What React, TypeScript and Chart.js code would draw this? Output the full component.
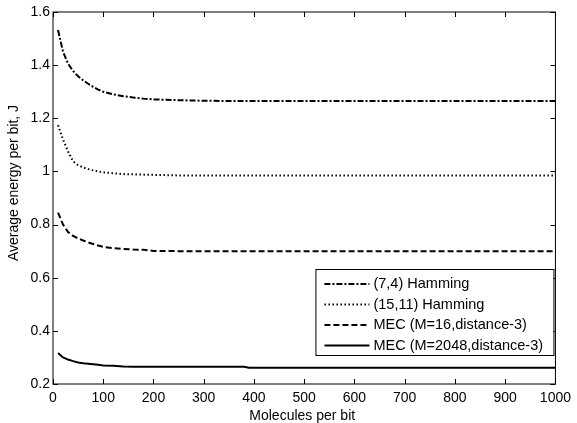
import React, { useEffect, useRef } from "react";
import { Chart, registerables } from "chart.js";

Chart.register(...registerables);

const moleculesPerBit = [10, 20, 30, 40, 50, 60, 70, 80, 90, 100, 120, 140, 160, 180, 200, 250, 300, 350, 380, 390, 400, 500, 600, 700, 800, 900, 1000];
const hamming74 = [1.532, 1.45, 1.405, 1.378, 1.358, 1.343, 1.33, 1.318, 1.308, 1.3, 1.29, 1.283, 1.278, 1.274, 1.271, 1.268, 1.266, 1.265, 1.265, 1.265, 1.265, 1.265, 1.265, 1.265, 1.265, 1.265, 1.265];
const hamming1511 = [1.174, 1.12, 1.075, 1.038, 1.024, 1.015, 1.009, 1.004, 1.0, 0.997, 0.993, 0.99, 0.989, 0.988, 0.987, 0.985, 0.985, 0.985, 0.985, 0.985, 0.985, 0.985, 0.985, 0.985, 0.985, 0.985, 0.985];
const mec16 = [0.845, 0.8, 0.772, 0.757, 0.748, 0.74, 0.733, 0.727, 0.721, 0.716, 0.711, 0.708, 0.706, 0.705, 0.701, 0.7, 0.7, 0.7, 0.7, 0.7, 0.7, 0.7, 0.7, 0.7, 0.7, 0.7, 0.7];
const mec2048 = [0.317, 0.3, 0.292, 0.286, 0.281, 0.278, 0.276, 0.274, 0.272, 0.27, 0.269, 0.266, 0.265, 0.265, 0.265, 0.265, 0.265, 0.265, 0.265, 0.261, 0.261, 0.261, 0.261, 0.261, 0.261, 0.261, 0.261];

const seriesNames = ["(7,4) Hamming", "(15,11) Hamming", "MEC (M=16,distance-3)", "MEC (M=2048,distance-3)"];
const xTickValues = [0, 100, 200, 300, 400, 500, 600, 700, 800, 900, 1000];
const xTickLabels = ["0", "100", "200", "300", "400", "500", "600", "700", "800", "900", "1000"];
const yTickValues = [0.2, 0.4, 0.6, 0.8, 1.0, 1.2, 1.4, 1.6];
const yTickLabels = ["0.2", "0.4", "0.6", "0.8", "1", "1.2", "1.4", "1.6"];
const xTitle = "Molecules per bit";
const yTitle = "Average energy per bit, J";

const FONT = "'Liberation Sans', Arial, sans-serif";
const dashes = [[6, 2, 2, 2], [1.5, 2.5], [6, 3], []];

export default function App() {
  const ref = useRef<HTMLCanvasElement | null>(null);
  useEffect(() => {
    if (!ref.current) return;
    const seriesValues = [hamming74, hamming1511, mec16, mec2048];
    const frame = {
      id: "frame",
      afterDatasetsDraw(chart: any) {
        const { ctx, chartArea: a, scales } = chart;
        ctx.save();
        ctx.strokeStyle = "#000";
        ctx.lineWidth = 1;
        ctx.setLineDash([]);
        ctx.strokeRect(a.left, a.top, a.right - a.left, a.bottom - a.top);
        ctx.beginPath();
        xTickValues.forEach((v) => {
          const px = Math.round(scales.x.getPixelForValue(v)) + 0.5;
          ctx.moveTo(px, a.bottom);
          ctx.lineTo(px, a.bottom - 5);
          ctx.moveTo(px, a.top);
          ctx.lineTo(px, a.top + 5);
        });
        yTickValues.forEach((v) => {
          const py = Math.round(scales.y.getPixelForValue(v)) + 0.5;
          ctx.moveTo(a.left, py);
          ctx.lineTo(a.left + 5, py);
          ctx.moveTo(a.right, py);
          ctx.lineTo(a.right - 5, py);
        });
        ctx.stroke();
        // axis titles
        ctx.fillStyle = "#000";
        ctx.font = `14px ${FONT}`;
        ctx.textAlign = "center";
        ctx.textBaseline = "middle";
        ctx.fillText(xTitle, (a.left + a.right) / 2 - 2, 416);
        ctx.save();
        ctx.translate(14, (a.top + a.bottom) / 2 - 15);
        ctx.rotate(-Math.PI / 2);
        ctx.fillText(yTitle, 0, 0);
        ctx.restore();
        // legend
        const lx = a.right - 240, ly = a.top + 257, lw = 238, lh = 86;
        ctx.fillStyle = "#fff";
        ctx.fillRect(lx, ly, lw, lh);
        ctx.strokeRect(lx + 0.5, ly + 0.5, lw, lh);
        ctx.font = `14.5px ${FONT}`;
        ctx.textAlign = "left";
        ctx.textBaseline = "middle";
        ctx.fillStyle = "#000";
        seriesNames.forEach((name, i) => {
          const ry = ly + 15 + i * 20.5;
          ctx.beginPath();
          ctx.lineWidth = 2;
          ctx.setLineDash(dashes[i]);
          ctx.moveTo(lx + 9, ry);
          ctx.lineTo(lx + 54, ry);
          ctx.stroke();
          ctx.setLineDash([]);
          ctx.fillText(name, lx + 58, ry);
        });
        ctx.restore();
      },
    };
    const chart = new Chart(ref.current, {
      type: "line",
      data: {
        datasets: seriesValues.map((vals, i) => ({
          label: seriesNames[i],
          data: moleculesPerBit.map((x, j) => ({ x, y: vals[j] })),
          borderColor: "#000",
          borderWidth: 2,
          borderDash: dashes[i],
          pointRadius: 0,
          tension: 0,
          fill: false,
        })),
      },
      options: {
        animation: false,
        responsive: false,
        devicePixelRatio: 1,
        layout: { padding: { top: 12, right: 14, left: 0, bottom: 0 } },
        plugins: { legend: { display: false }, tooltip: { enabled: false } },
        scales: {
          x: {
            type: "linear",
            min: 0,
            max: 1000,
            afterBuildTicks: (s: any) => { s.ticks = xTickValues.map((v) => ({ value: v })); },
            afterFit: (s: any) => { s.height = 39; },
            ticks: {
              font: { family: FONT, size: 14 },
              color: "#000",
              padding: 6,
              maxRotation: 0,
              autoSkip: false,
              callback: (_v: any, i: number) => xTickLabels[i],
            },
            grid: { display: false, drawTicks: false },
            border: { display: false },
            title: { display: false },
          },
          y: {
            type: "linear",
            min: 0.2,
            max: 1.6,
            afterBuildTicks: (s: any) => { s.ticks = yTickValues.map((v) => ({ value: v })); },
            afterFit: (s: any) => { s.width = 53; },
            ticks: {
              font: { family: FONT, size: 14 },
              color: "#000",
              padding: 3,
              autoSkip: false,
              callback: (_v: any, i: number) => yTickLabels[i],
            },
            grid: { display: false, drawTicks: false },
            border: { display: false },
            title: { display: false },
          },
        },
      },
      plugins: [frame],
    });
    return () => chart.destroy();
  }, []);
  return (
    <div style={{ position: "fixed", left: 0, top: 0, width: 577, height: 423, background: "#fff" }}>
      <canvas ref={ref} width={577} height={423} style={{ width: 577, height: 423 }} />
    </div>
  );
}
